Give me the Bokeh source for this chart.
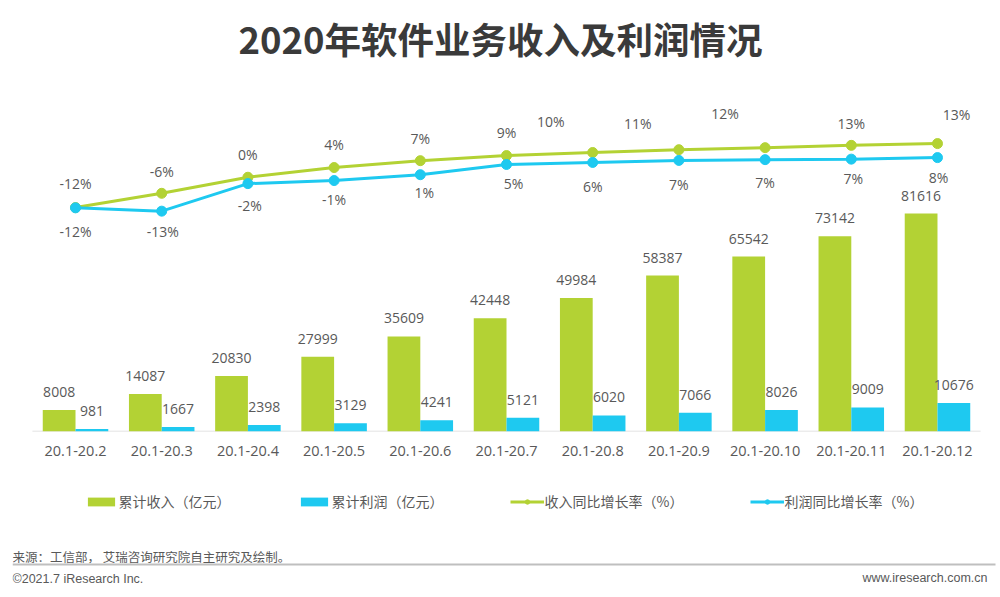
from bokeh.plotting import figure
from bokeh.models import ColumnDataSource, FactorRange, Range1d, Legend, LegendItem
from bokeh.transform import dodge
from bokeh.layouts import column
from bokeh.core.properties import value
from bokeh.embed import file_html
from bokeh.resources import INLINE

# ---------------- data ----------------
categories = ["20.1-20.2", "20.1-20.3", "20.1-20.4", "20.1-20.5", "20.1-20.6", "20.1-20.7",
              "20.1-20.8", "20.1-20.9", "20.1-20.10", "20.1-20.11", "20.1-20.12"]
revenue = [8008, 14087, 20830, 27999, 35609, 42448, 49984, 58387, 65542, 73142, 81616]
profit = [981, 1667, 2398, 3129, 4241, 5121, 6020, 7066, 8026, 9009, 10676]
revenue_growth = [-11.8, -6.2, 0.1, 3.9, 6.6, 8.6, 9.8, 10.9, 11.7, 12.6, 13.3]
profit_growth = [-11.9, -13.2, -2.4, -1.2, 1.1, 5.1, 5.9, 6.7, 7.0, 7.2, 7.8]

title_text = "2020年软件业务收入及利润情况"
legend_labels = ["累计收入（亿元）", "累计利润（亿元）", "收入同比增长率（%）", "利润同比增长率（%）"]
source_text = "来源：工信部， 艾瑞咨询研究院自主研究及绘制。"
copyright_text = "©2021.7 iResearch Inc."
site_text = "www.iresearch.com.cn"

# ---------------- style ----------------
GREEN = "#b3d234"
BLUE = "#1ec9f0"
TXT = "#595959"
NUM_FONT = "Open Sans"
CJK_FONT = "Noto Sans CJK SC"
LEFT = 12  # left border shared by all stacked figures

# label offsets (pixels) for percentage labels
g_dx = [0, 0, 0, 0, 0, 0, -42, -41, -40, 0, 19]
g_dy = [-24, -22, -23, -23, -22, -23, -31, -26, -34, -22, -29]
b_dx = [0, 1, 2, 0, 4, 7, 0, 0, 0, 2, 1]
b_dy = [24, 20, 22, 19, 18, 19, 24, 24, 23, 19, 20]

src = ColumnDataSource(dict(
    cat=categories, rev=revenue, profit=profit,
    rev_lbl=[str(v) for v in revenue], profit_lbl=[str(v) for v in profit],
    rg=revenue_growth, pg=profit_growth,
    rg_lbl=[f"{round(v)}%" for v in revenue_growth],
    pg_lbl=[f"{round(v)}%" for v in profit_growth],
    g_dx=g_dx, g_dy=g_dy, b_dx=b_dx, b_dy=b_dy,
))
base_src = ColumnDataSource(dict(c0=[categories[0]], c1=[categories[-1]], y=[0]))


def blank(h):
    f = figure(width=1000, height=h, x_range=Range1d(LEFT, 1000), y_range=Range1d(h, 0),
               x_axis_type=None, y_axis_type=None, min_border_left=LEFT, min_border_right=0,
               min_border_top=0, min_border_bottom=0, outline_line_color=None,
               toolbar_location=None, output_backend="svg")
    f.xgrid.visible = False
    f.ygrid.visible = False
    return f


# ---------------- title ----------------
ft = blank(65)
ft.text(x=[500], y=[38], text=[title_text], text_align="center", text_baseline="middle",
        text_font=value(CJK_FONT), text_font_size="36.5px", text_font_style="bold",
        text_color="#3a3a3a")

# ---------------- main chart ----------------
p = figure(width=1000, height=406,
           x_range=FactorRange(*categories, range_padding=0.231, range_padding_units="absolute"),
           y_range=Range1d(0, 137079), y_axis_type=None,
           min_border_left=LEFT, min_border_right=0, min_border_top=0, min_border_bottom=40,
           outline_line_color=None, toolbar_location=None, output_backend="svg")
p.xgrid.visible = False
p.ygrid.visible = False
p.extra_y_ranges = {"pct": Range1d(-99.61, 43.92)}

# baseline
p.segment(x0=dodge("c0", -0.5, range=p.x_range), x1=dodge("c1", 0.5, range=p.x_range),
          y0="y", y1="y", source=base_src, line_color="#d9d9d9", line_width=1.5)

rb = p.vbar(x=dodge("cat", -0.19, range=p.x_range), top="rev", width=0.38, source=src,
            fill_color=GREEN, line_color=None)
pb = p.vbar(x=dodge("cat", 0.19, range=p.x_range), top="profit", width=0.38, source=src,
            fill_color=BLUE, line_color=None)

p.text(x=dodge("cat", -0.19, range=p.x_range), y="rev", text="rev_lbl", source=src,
       text_align="center", text_baseline="middle", y_offset=-18,
       text_font=value(NUM_FONT), text_font_size="14px", text_color=TXT)
p.text(x=dodge("cat", 0.19, range=p.x_range), y="profit", text="profit_lbl", source=src,
       text_align="center", text_baseline="middle", y_offset=-18,
       text_font=value(NUM_FONT), text_font_size="14px", text_color=TXT)

gl = p.line(x="cat", y="rg", source=src, y_range_name="pct", line_color=GREEN, line_width=3)
gs = p.scatter(x="cat", y="rg", source=src, y_range_name="pct", size=10,
               fill_color=GREEN, line_color=GREEN)
bl = p.line(x="cat", y="pg", source=src, y_range_name="pct", line_color=BLUE, line_width=3)
bs = p.scatter(x="cat", y="pg", source=src, y_range_name="pct", size=10,
               fill_color=BLUE, line_color=BLUE)

p.text(x="cat", y="rg", text="rg_lbl", source=src, y_range_name="pct",
       x_offset="g_dx", y_offset="g_dy", text_align="center", text_baseline="middle",
       text_font=value(NUM_FONT), text_font_size="14px", text_color=TXT)
p.text(x="cat", y="pg", text="pg_lbl", source=src, y_range_name="pct",
       x_offset="b_dx", y_offset="b_dy", text_align="center", text_baseline="middle",
       text_font=value(NUM_FONT), text_font_size="14px", text_color=TXT)

ax = p.xaxis[0]
ax.axis_line_color = None
ax.major_tick_line_color = None
ax.minor_tick_line_color = None
ax.major_tick_out = 0
ax.major_tick_in = 0
ax.major_label_standoff = 14
ax.major_label_text_font = NUM_FONT
ax.major_label_text_font_size = "14.5px"
ax.major_label_text_color = TXT

# ---------------- legend strip ----------------
# stand-in renderers (one point placed outside the visible area) so the legend
# can draw its swatches in this strip
fl = blank(76)
proxy = ColumnDataSource(dict(x=[-500], y=[-500]))
lrb = fl.vbar(x="x", top="y", width=1, source=proxy, fill_color=GREEN, line_color=None)
lpb = fl.vbar(x="x", top="y", width=1, source=proxy, fill_color=BLUE, line_color=None)
lgl = fl.line(x="x", y="y", source=proxy, line_color=GREEN, line_width=3)
lgs = fl.scatter(x="x", y="y", source=proxy, size=10, fill_color=GREEN, line_color=GREEN)
lbl = fl.line(x="x", y="y", source=proxy, line_color=BLUE, line_width=3)
lbs = fl.scatter(x="x", y="y", source=proxy, size=10, fill_color=BLUE, line_color=BLUE)

legend = Legend(items=[
    LegendItem(label=legend_labels[0], renderers=[lrb]),
    LegendItem(label=legend_labels[1], renderers=[lpb]),
    LegendItem(label=legend_labels[2], renderers=[lgl, lgs]),
    LegendItem(label=legend_labels[3], renderers=[lbl, lbs]),
], orientation="horizontal", location=(71.6, 36), spacing=66, padding=0, margin=0,
    border_line_color=None, background_fill_alpha=0,
    label_text_font=CJK_FONT, label_text_font_size="14px", label_text_color=TXT,
    glyph_width=34, glyph_height=11, label_standoff=1, label_height=20)
fl.add_layout(legend)

# ---------------- footer ----------------
ff = blank(50)
ff.text(x=[LEFT], y=[9], text=[source_text], text_align="left", text_baseline="middle",
        text_font=value(CJK_FONT), text_font_size="12.5px", text_color=TXT)
ff.segment(x0=[LEFT], y0=[17], x1=[995], y1=[17], line_color="#bfbfbf", line_width=2)
ff.text(x=[LEFT], y=[31], text=[copyright_text], text_align="left", text_baseline="middle",
        text_font=value("Liberation Sans"), text_font_size="12.5px", text_color=TXT)
ff.text(x=[987], y=[30], text=[site_text], text_align="right", text_baseline="middle",
        text_font=value("Liberation Sans"), text_font_size="12.5px", text_color=TXT)

layout = column(ft, p, fl, ff, spacing=0)
open("out.html", "w").write(file_html(layout, INLINE))
